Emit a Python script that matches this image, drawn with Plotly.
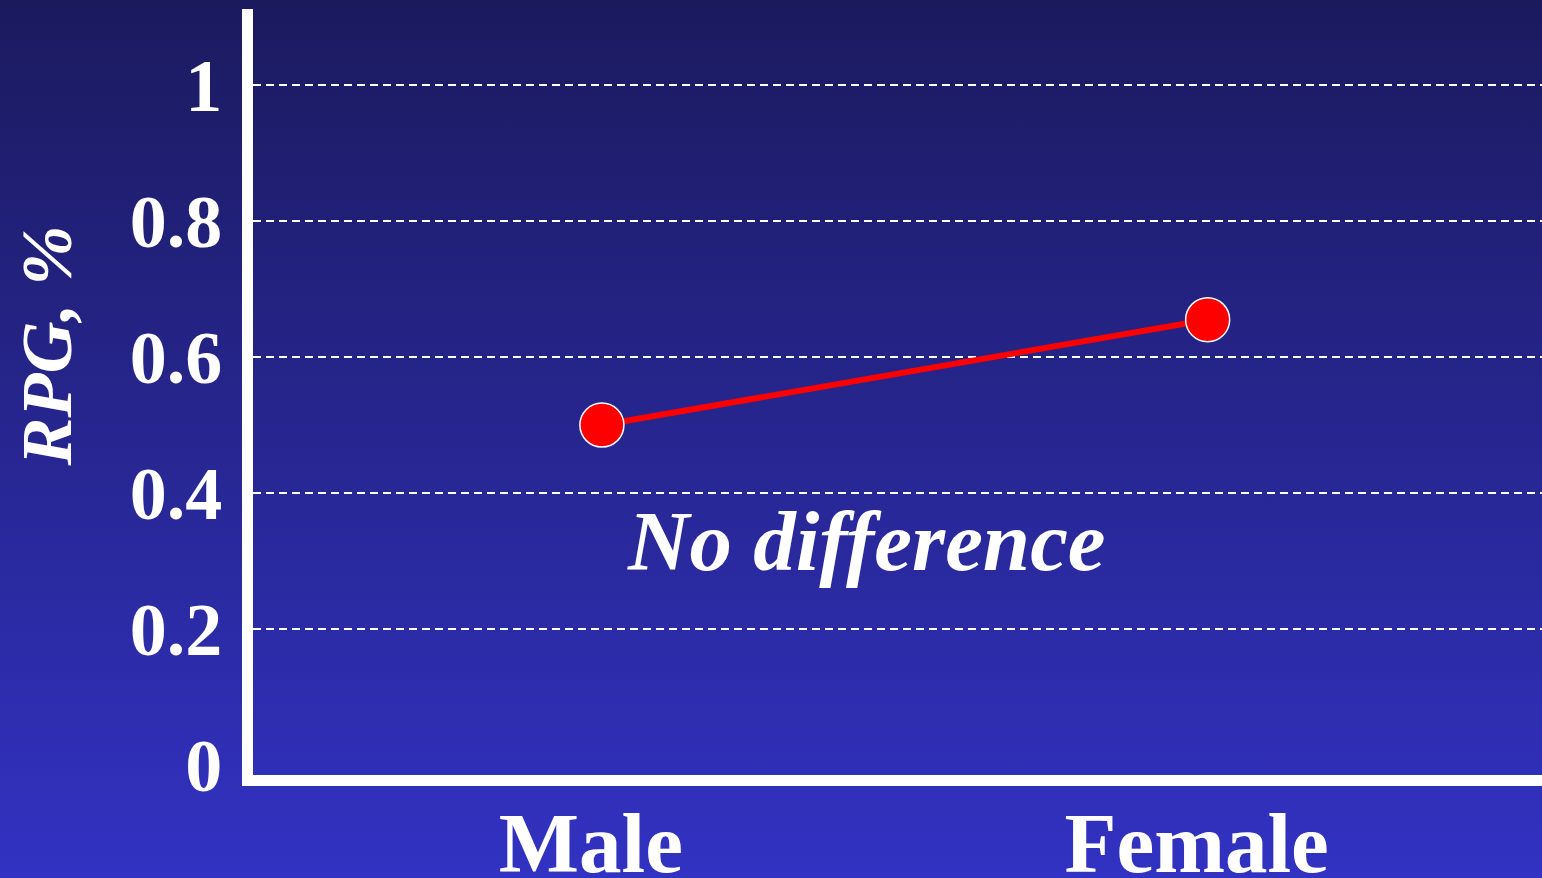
"""
RPG by sex - line chart on a blue slide background
"""

import base64
import plotly.graph_objects as go

# data
groups = ["Male", "Female"]
rpg = [0.50, 0.655]
y_ticks = [0, 0.2, 0.4, 0.6, 0.8, 1]
y_ticklabels = ["0", "0.2", "0.4", "0.6", "0.8", "1"]
note = "No difference"
y_title = "RPG, %"

W, H = 1542, 878
MARGIN = dict(l=253, r=0, t=9, b=103)
SERIF = "Liberation Serif, Times New Roman, serif"

# slide-style vertical gradient as an svg background image
svg = (
    f'<svg xmlns="http://www.w3.org/2000/svg" width="{W}" height="{H}">'
    '<defs><linearGradient id="g" x1="0" y1="0" x2="0" y2="1">'
    '<stop offset="0" stop-color="#1b1a5e"/>'
    '<stop offset="1" stop-color="#3232c3"/>'
    '</linearGradient></defs>'
    f'<rect width="{W}" height="{H}" fill="url(#g)"/></svg>'
)
bg_src = "data:image/svg+xml;base64," + base64.b64encode(svg.encode()).decode()

plot_w = W - MARGIN["l"] - MARGIN["r"]
plot_h = H - MARGIN["t"] - MARGIN["b"]

fig = go.Figure()

fig.add_trace(go.Scatter(
    x=[0, 1],
    y=rpg,
    mode="lines+markers",
    line=dict(color="#ff0000", width=6),
    marker=dict(size=44, color="#ff0000", line=dict(color="white", width=1.5)),
    showlegend=False,
    hoverinfo="skip",
))

fig.add_annotation(
    text=f"<b><i>{note}</i></b>",
    xref="paper", yref="y",
    x=0.476, y=0.329,
    showarrow=False,
    font=dict(family=SERIF, size=85, color="white"),
)

# y axis title, placed by hand like on the slide
fig.add_annotation(
    text=f"<b><i>{y_title}</i></b>",
    xref="paper", yref="paper",
    x=-0.192, y=0.56,
    textangle=-90,
    showarrow=False,
    font=dict(family=SERIF, size=72, color="white"),
)

fig.add_layout_image(
    source=bg_src,
    xref="paper", yref="paper",
    x=-MARGIN["l"] / plot_w, y=1 + MARGIN["t"] / plot_h,
    sizex=W / plot_w, sizey=H / plot_h,
    xanchor="left", yanchor="top",
    sizing="stretch", layer="below",
)

fig.update_layout(
    width=W, height=H,
    margin=dict(**MARGIN, pad=0),
    paper_bgcolor="#26268f",
    plot_bgcolor="rgba(0,0,0,0)",
    showlegend=False,
)

fig.update_xaxes(
    range=[-0.576, 1.552],
    tickvals=[0, 1],
    ticktext=groups,
    showgrid=False,
    zeroline=False,
    showline=True, linecolor="white", linewidth=11,
    ticks="",
    ticklabelstandoff=-16,
    ticklabelshift=-11,
    automargin=False,
    tickfont=dict(family=SERIF, size=85, color="white", weight="bold"),
)

fig.update_yaxes(
    range=[-0.0147, 1.112],
    tickvals=y_ticks,
    ticktext=y_ticklabels,
    showgrid=True, gridcolor="white", gridwidth=1.5, griddash="8px,5px",
    zeroline=True, zerolinecolor="rgba(0,0,0,0)",
    showline=True, linecolor="white", linewidth=11,
    ticks="",
    ticklabelstandoff=5,
    automargin=False,
    tickfont=dict(family=SERIF, size=74, color="white", weight="bold"),
)

fig.write_html(
    "out.html",
    config={"displayModeBar": False},
    post_script="document.body.style.margin='0';",
)
